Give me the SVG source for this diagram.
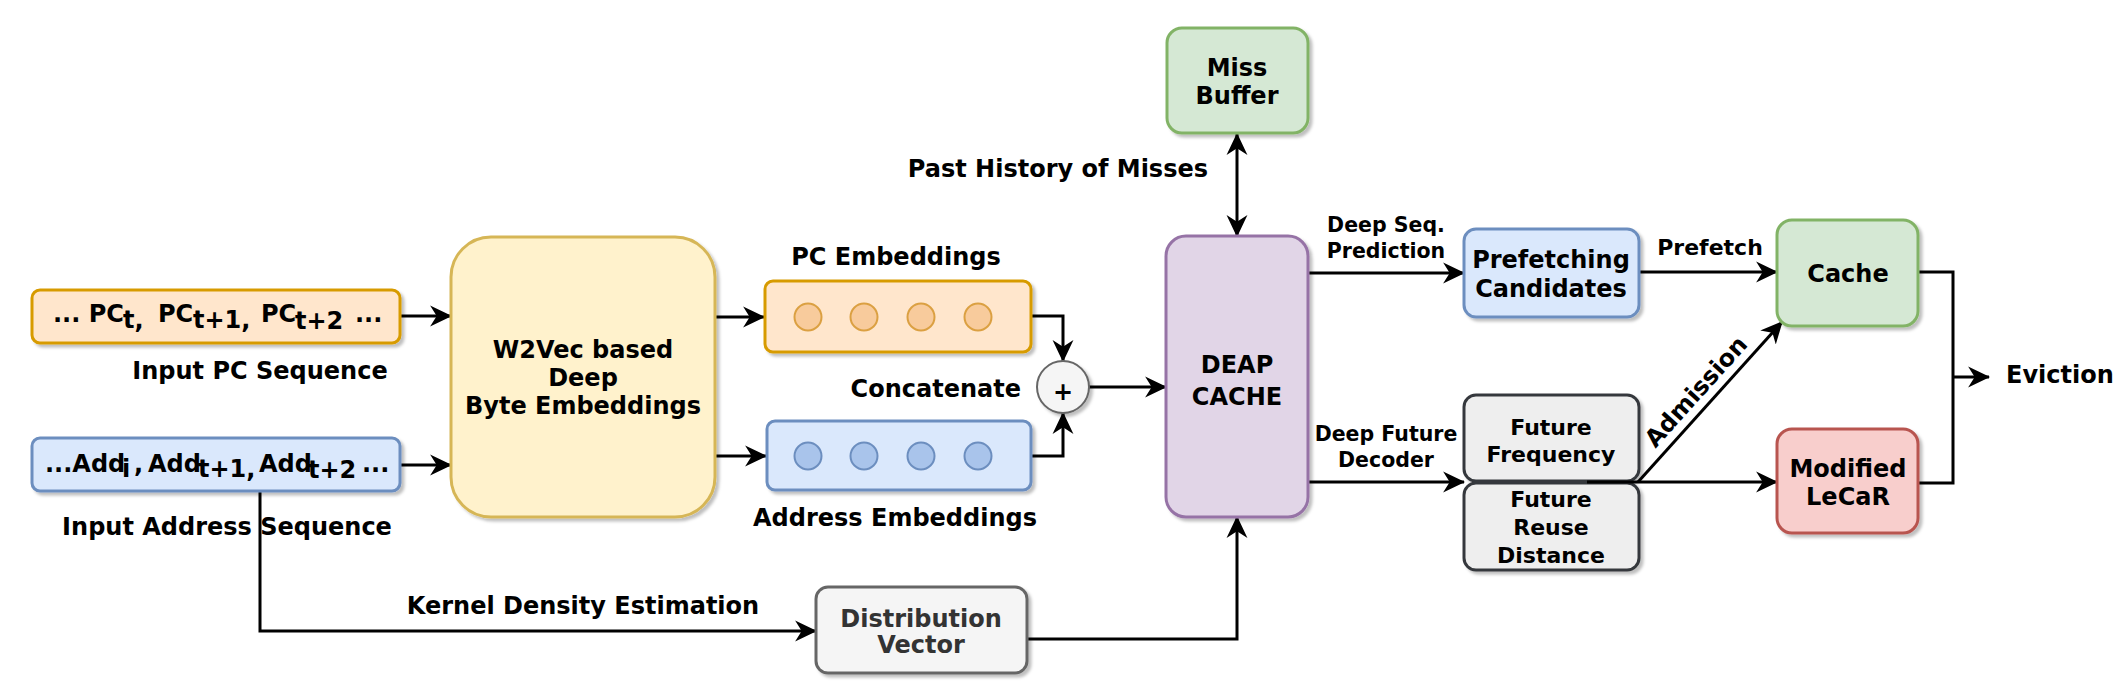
<svg xmlns="http://www.w3.org/2000/svg" width="2126" height="700" viewBox="0 0 2126 700">
<defs>
<filter id="sh" x="-10%" y="-10%" width="130%" height="130%">
<feDropShadow dx="3" dy="3" stdDeviation="1.5" flood-color="#000" flood-opacity="0.25"/>
</filter>
<marker id="ar" markerUnits="userSpaceOnUse" markerWidth="22" markerHeight="22" viewBox="0 0 20 20" refX="19" refY="10" orient="auto-start-reverse">
<path d="M0,0.5 L20,10 L0,19.5 L6,10 Z" fill="#000"/>
</marker>
</defs>
<style>
text{font-family:"DejaVu Sans","Verdana",sans-serif;font-weight:bold;fill:#000;font-size:24px}
.m{text-anchor:middle}
.e{text-anchor:end}
.s20{font-size:20.5px}
.s22{font-size:22px}
.box{stroke-width:3}
.orange{fill:#ffe6cc;stroke:#d79b00}
.blue{fill:#dae8fc;stroke:#6c8ebf}
.yellow{fill:#fff2cc;stroke:#d6b656}
.green{fill:#d5e8d4;stroke:#82b366}
.purple{fill:#e1d5e7;stroke:#9673a6}
.red{fill:#f8cecc;stroke:#b85450}
.gray{fill:#eeeeee;stroke:#36393d}
.lgray{fill:#f5f5f5;stroke:#666666}
.oc{fill:#f8cb9c;stroke:#dba042;stroke-width:2}
.bc{fill:#a9c4eb;stroke:#6c8ebf;stroke-width:2}
.c{fill:none;stroke:#000;stroke-width:3}
</style>

<g id="connectors">
<path class="c" d="M400,316 H451" marker-end="url(#ar)"/>
<path class="c" d="M400,465 H451" marker-end="url(#ar)"/>
<path class="c" d="M715,317 H764" marker-end="url(#ar)"/>
<path class="c" d="M715,456 H766" marker-end="url(#ar)"/>
<path class="c" d="M1031,316 H1063 V361" marker-end="url(#ar)"/>
<path class="c" d="M1031,456 H1063 V413" marker-end="url(#ar)"/>
<path class="c" d="M1089,387 H1166" marker-end="url(#ar)"/>
<path class="c" d="M1237,134 V236" marker-start="url(#ar)" marker-end="url(#ar)"/>
<path class="c" d="M1308,273 H1464" marker-end="url(#ar)"/>
<path class="c" d="M1308,482 H1464" marker-end="url(#ar)"/>
<path class="c" d="M1639,272 H1777" marker-end="url(#ar)"/>
<path class="c" d="M260,491 V631 H816" marker-end="url(#ar)"/>
<path class="c" d="M1027,639 H1237 V517" marker-end="url(#ar)"/>
<path class="c" d="M1918,272 H1953 V483 H1918"/>
<path class="c" d="M1953,377 H1989" marker-end="url(#ar)"/>
</g>

<g id="pc-seq">
<rect class="box orange" x="32" y="290" width="368" height="53" rx="8" filter="url(#sh)"/>
<text x="53" y="322">... PC</text>
<text x="123" y="328" font-size="20">t,</text>
<text x="158" y="322">PC</text>
<text x="193" y="328" font-size="20">t+1,</text>
<text x="261" y="322">PC</text>
<text x="295" y="329">t+2</text>
<text x="355" y="322">...</text>
<text class="m" x="260" y="379">Input PC Sequence</text>
</g>

<g id="addr-seq">
<rect class="box blue" x="32" y="438" width="368" height="53" rx="8" filter="url(#sh)"/>
<text x="45" y="472" font-size="23">...Add</text>
<text x="122" y="477" font-size="20">i</text>
<text x="134" y="472" font-size="23">,</text>
<text x="148" y="472" font-size="23">Add</text>
<text x="198" y="477" font-size="20">t+1,</text>
<text x="259" y="472" font-size="23">Add</text>
<text x="308" y="478">t+2</text>
<text x="362" y="472" font-size="23">...</text>
<text class="m" x="227" y="535">Input Address Sequence</text>
</g>

<g id="w2vec">
<rect class="box yellow" x="451" y="237" width="264" height="280" rx="40" filter="url(#sh)"/>
<text class="m" x="583" y="358">W2Vec based</text>
<text class="m" x="583" y="386">Deep</text>
<text class="m" x="583" y="414">Byte Embeddings</text>
</g>

<g id="pc-emb">
<rect class="box orange" x="765" y="281" width="266" height="71" rx="8" filter="url(#sh)"/>
<circle class="oc" cx="808" cy="317" r="13.5"/>
<circle class="oc" cx="864" cy="317" r="13.5"/>
<circle class="oc" cx="921" cy="317" r="13.5"/>
<circle class="oc" cx="978" cy="317" r="13.5"/>
<text class="m" x="896" y="265">PC Embeddings</text>
</g>

<g id="addr-emb">
<rect class="box blue" x="767" y="421" width="264" height="69" rx="8" filter="url(#sh)"/>
<circle class="bc" cx="808" cy="456" r="13.5"/>
<circle class="bc" cx="864" cy="456" r="13.5"/>
<circle class="bc" cx="921" cy="456" r="13.5"/>
<circle class="bc" cx="978" cy="456" r="13.5"/>
<text class="m" x="895" y="526">Address Embeddings</text>
</g>

<g id="concat">
<circle cx="1063" cy="387" r="26" fill="#f5f5f5" stroke="#666" stroke-width="2" filter="url(#sh)"/>
<text class="m" x="1063" y="399.5" font-size="36">+</text>
<text class="e" x="1021" y="397" font-size="25.5">Concatenate</text>
</g>

<g id="miss-buffer">
<rect class="box green" x="1167" y="28" width="141" height="105" rx="15" filter="url(#sh)"/>
<text class="m" x="1237" y="76">Miss</text>
<text class="m" x="1237" y="104">Buffer</text>
<text class="e" x="1208" y="177" font-size="25">Past History of Misses</text>
</g>

<g id="deap-cache">
<rect class="box purple" x="1166" y="236" width="142" height="281" rx="20" filter="url(#sh)"/>
<text class="m" x="1237" y="373" font-size="26">DEAP</text>
<text class="m" x="1237" y="405" font-size="26">CACHE</text>
</g>

<g id="labels-deap">
<text class="m s20" x="1386" y="232">Deep Seq.</text>
<text class="m s20" x="1386" y="258">Prediction</text>
<text class="m s20" x="1386" y="441">Deep Future</text>
<text class="m s20" x="1386" y="467">Decoder</text>
</g>

<g id="prefetching">
<rect class="box blue" x="1464" y="229" width="175" height="88" rx="12" filter="url(#sh)"/>
<text class="m" x="1551" y="268">Prefetching</text>
<text class="m" x="1551" y="297">Candidates</text>
<text class="m s22" x="1710" y="255">Prefetch</text>
</g>

<g id="future-frequency">
<rect class="box gray" x="1464" y="395" width="175" height="86" rx="12" filter="url(#sh)"/>
<text class="m s22" x="1551" y="435">Future</text>
<text class="m s22" x="1551" y="462">Frequency</text>
</g>

<g id="future-reuse">
<rect class="box gray" x="1464" y="483" width="175" height="87" rx="12" filter="url(#sh)"/>
<text class="m s22" x="1551" y="507">Future</text>
<text class="m s22" x="1551" y="535">Reuse</text>
<text class="m s22" x="1551" y="563">Distance</text>
</g>

<g id="connectors-right">
<path class="c" d="M1587,482 H1777" marker-end="url(#ar)"/>
<path class="c" d="M1638,482 L1782,322" marker-end="url(#ar)"/>
<text class="m" transform="translate(1702,397) rotate(-48)">Admission</text>
</g>

<g id="cache">
<rect class="box green" x="1777" y="220" width="141" height="106" rx="15" filter="url(#sh)"/>
<text class="m" x="1848" y="282">Cache</text>
</g>

<g id="lecar">
<rect class="box red" x="1777" y="429" width="141" height="104" rx="15" filter="url(#sh)"/>
<text class="m" x="1848" y="477">Modified</text>
<text class="m" x="1848" y="505">LeCaR</text>
</g>

<g id="eviction">
<text x="2006" y="383">Eviction</text>
</g>

<g id="distribution">
<rect class="box lgray" x="816" y="587" width="211" height="86" rx="12" filter="url(#sh)"/>
<text class="m" x="921" y="627" style="fill:#333">Distribution</text>
<text class="m" x="921" y="653" style="fill:#333">Vector</text>
<text class="m" x="583" y="614">Kernel Density Estimation</text>
</g>
</svg>
